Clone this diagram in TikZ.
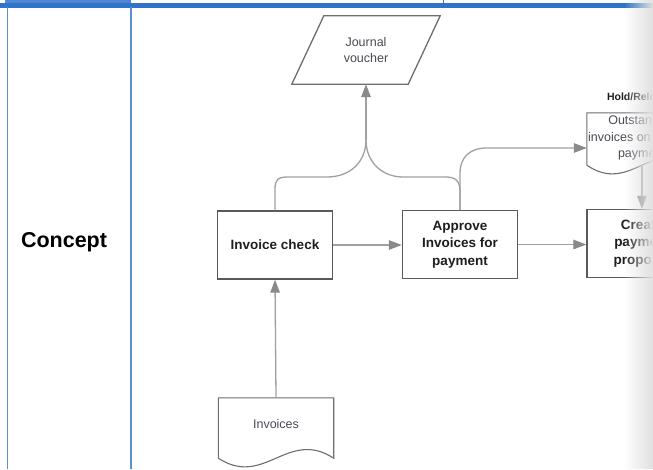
\documentclass[tikz,border=0pt]{standalone}
\usepackage{fontspec}
\setmainfont{Liberation Sans}
\usetikzlibrary{arrows.meta,calc,fadings}
\definecolor{tblue}{HTML}{2F74C7}
\definecolor{tbluel}{HTML}{4F86D3}
\definecolor{boxline}{HTML}{5A5A5A}
\definecolor{docline}{HTML}{6E6E6E}
\definecolor{conn}{HTML}{A0A0A0}
\definecolor{tipc}{HTML}{8A8A8A}
\definecolor{lbl}{HTML}{4A4A55}
\definecolor{bold}{HTML}{1E1E1E}
\tikzfading[name=fadeR, left color=transparent!100, right color=transparent!0]
\tikzset{
  x=1pt, y=1pt,
  procbox/.style={draw=boxline, line width=1.4pt, minimum width=115pt, minimum height=68pt,
    align=center, text=bold, font=\bfseries\fontsize{13.5}{17.5}\selectfont, inner sep=2pt},
  lbltext/.style={align=center, text=lbl, font=\fontsize{12.5}{16.5}\selectfont, inner sep=0pt},
  outline/.style={draw=docline, line width=1.1pt},
  conline/.style={draw=conn, line width=1.3pt},
  arr/.style={conline, -{Triangle[length=13pt,width=9.5pt,fill=tipc,color=tipc]}},
  tblline/.style={draw=tblue!80, line width=1.6pt}
}
\begin{document}
\begin{tikzpicture}
\useasboundingbox (0,0) rectangle (653,-469);
\clip (0,0) rectangle (653,-469);
\fill[white] (0,0) rectangle (653,-469);
% table frame
\fill[tbluel] (5,0) rectangle (131,-6);
\draw[draw=tblue, line width=0.8pt] (443,0) -- (443,-4);
\fill[tblue] (0,-3) rectangle (653,-7.5);
\draw[tblline] (7.3,-7) -- (7.3,-469);
\draw[tblline] (131,-7) -- (131,-469);
\node[font=\bfseries\fontsize{21.5}{24}\selectfont, text=black] (concept) at (64,-242) {Concept};

% journal voucher (parallelogram)
\node[minimum width=148pt, minimum height=68pt, inner sep=0pt] (jv) at (366,-50) {};
\draw[outline, line width=1.3pt] ($(jv.north west)+(32,0)$) -- (jv.north east) -- ($(jv.south east)+(-32,0)$) -- (jv.south west) -- cycle;
\node[lbltext] (jvt) at (366,-50) {Journal\\voucher};

% process boxes
\node[procbox] (ic) at (275,-245) {Invoice check};
\node[procbox] (ap) at (460,-244.5) {Approve\\Invoices for\\payment};
\node[procbox, minimum width=110pt] (cr) at (642,-243.5) {Create\\payment\\proposal};

% outstanding invoices document
\node[minimum width=110pt, minimum height=52pt, inner sep=0pt] (od) at (642,-139) {};
\draw[outline] (od.south west) -- (od.north west) -- (od.north east) -- (od.south east)
  .. controls ($(od.south east)+(-44,30)$) and ($(od.south west)+(44,-30)$) .. (od.south west);
\node[lbltext] (odt) at (642,-138) {Outstanding\\invoices on hold for\\payment};
\node[font=\bfseries\fontsize{10.5}{12}\selectfont, text=bold] (hold) at (640,-97) {Hold/Release};

% invoices document
\node[minimum width=115pt, minimum height=60pt, inner sep=0pt] (inv) at (276,-428) {};
\draw[outline] (inv.south west) -- (inv.north west) -- (inv.north east) -- (inv.south east)
  .. controls ($(inv.south east)+(-46,30)$) and ($(inv.south west)+(46,-30)$) .. (inv.south west);
\node[lbltext] (invt) at (276,-424) {Invoices};

% connectors
\coordinate (jn) at (366,-140);
\coordinate (odin) at (od.west |- 0,-148);
\draw[conline] (ic.north) -- ++(0,21) .. controls ++(0,10) and (278,-177) .. (288,-177) -- (327,-177)
  .. controls (350,-177) and (366,-162) .. (jn);
\draw[conline] (ap.north) -- ++(0,19) .. controls ++(0,10) and (455,-177) .. (446,-177) -- (403,-177)
  .. controls (382,-177) and (366,-162) .. (jn);
\draw[arr] (jn) -- (jv.south);
\draw[arr] (ap.north) -- ++(0,36) .. controls ++(0,17) and (470,-148) .. (487,-148) -- (odin);
\draw[arr] (ic.east) -- (ic.east -| ap.west);
\draw[arr] (ap.east) -- (ap.east -| cr.west);
\draw[arr] (od.south) -- (cr.north);
\draw[arr] (inv.north) -- (ic.south);

% right-edge fade
\fill[black!12, path fading=fadeR] (624,0) rectangle (653,-469);
\end{tikzpicture}
\end{document}
